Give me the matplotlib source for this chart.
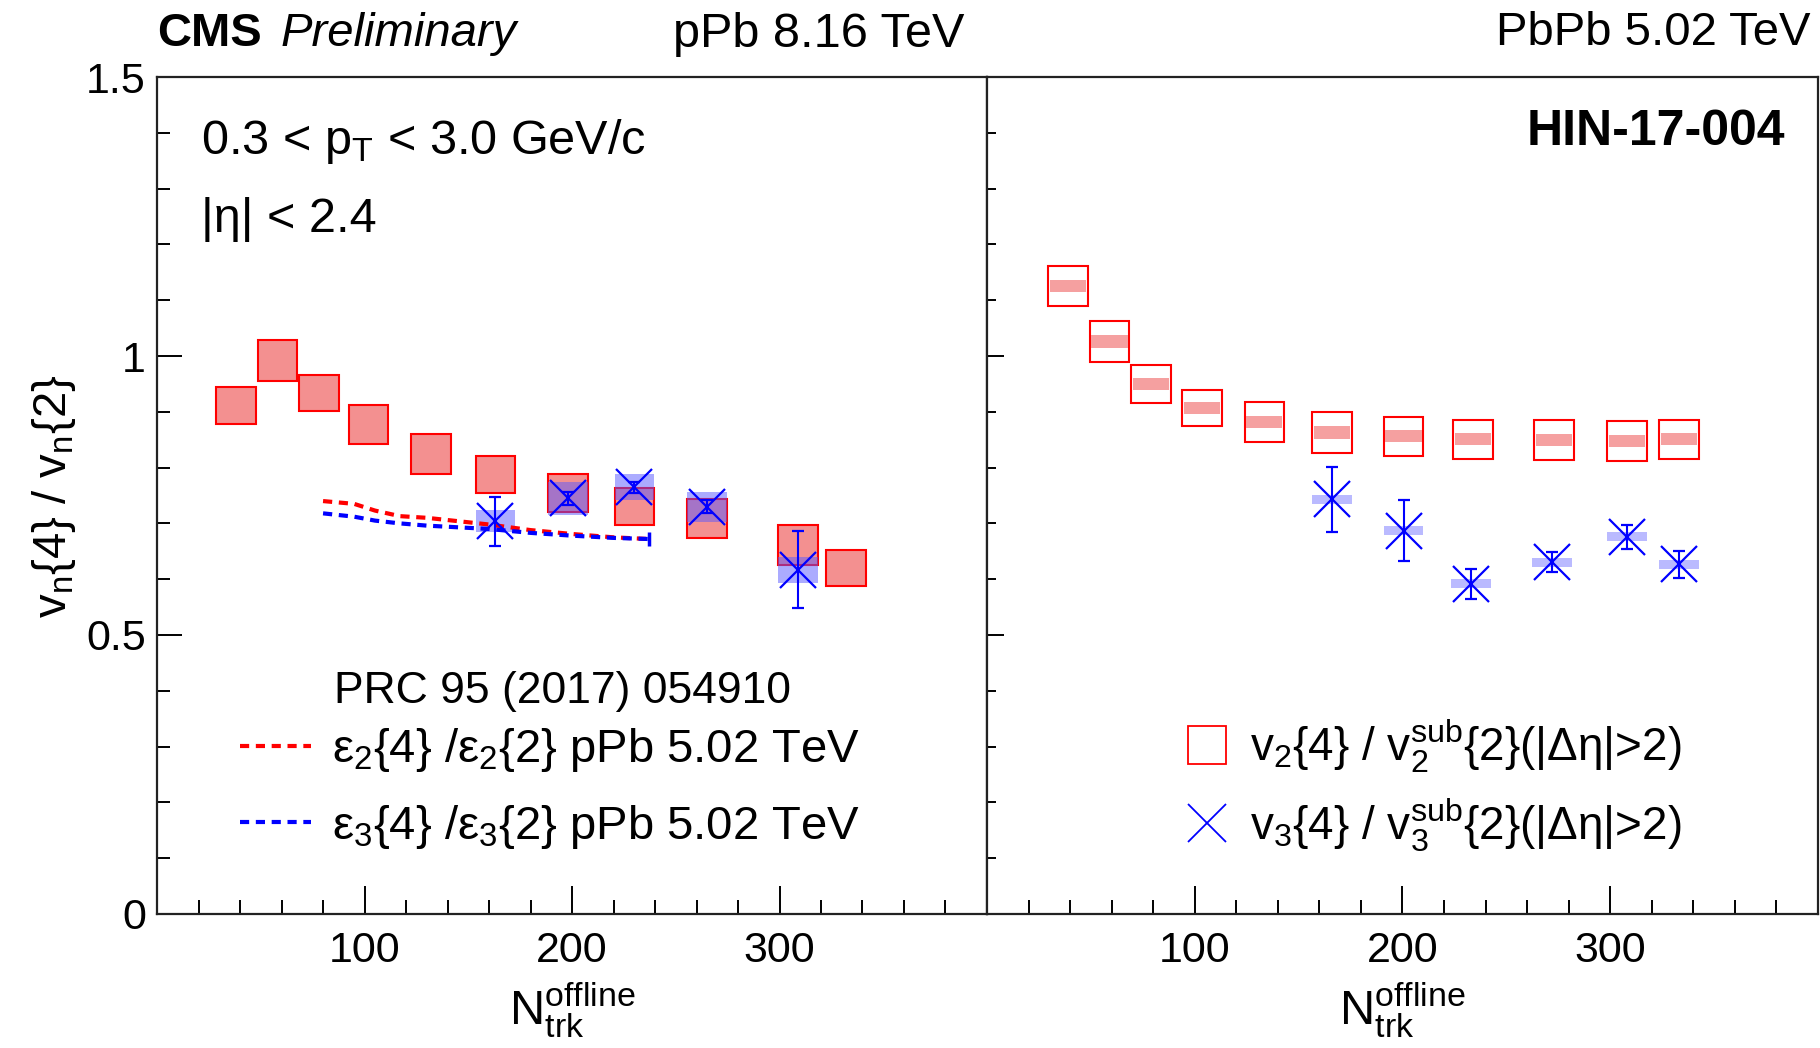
import matplotlib.pyplot as plt
from matplotlib.lines import Line2D
from matplotlib.ticker import FixedLocator, MultipleLocator

plt.rcParams.update({
    "font.family": "Liberation Sans",
    "mathtext.fontset": "custom",
    "mathtext.rm": "Liberation Sans",
    "mathtext.it": "Liberation Sans:italic",
    "mathtext.bf": "Liberation Sans:bold",
    "mathtext.sf": "Liberation Sans",
})

# ---- left panel: pPb 8.16 TeV ----
ppb_n_v2 = [38, 58, 78, 102, 132, 163, 198, 230, 265, 309, 332]
ppb_v2 = [0.912, 0.992, 0.934, 0.877, 0.824, 0.787, 0.755, 0.730, 0.708, 0.662, 0.620]
ppb_v2_sys = [0.033, 0.036, 0.032, 0.035, 0.036, 0.033, 0.034, 0.033, 0.035, 0.036, 0.032]

ppb_n_v3 = [163, 198, 230, 265, 309]
ppb_v3 = [0.704, 0.745, 0.765, 0.730, 0.617]
ppb_v3_stat = [0.044, 0.012, 0.010, 0.012, 0.069]
ppb_v3_sys = [0.020, 0.030, 0.023, 0.027, 0.023]

# eccentricity ratios, PRC 95 (2017) 054910
ecc_n = [80, 95, 105, 117, 130, 160, 180, 200, 220, 237]
ecc2_ratio = [0.740, 0.735, 0.723, 0.713, 0.710, 0.698, 0.688, 0.681, 0.675, 0.672]
ecc3_ratio = [0.718, 0.712, 0.705, 0.700, 0.696, 0.690, 0.683, 0.678, 0.674, 0.672]

# ---- right panel: PbPb 5.02 TeV ----
pbpb_n_v2 = [39, 59, 79, 103.5, 133.5, 166, 200.5, 234, 273, 308, 333]
pbpb_v2 = [1.126, 1.026, 0.950, 0.907, 0.882, 0.863, 0.856, 0.851, 0.849, 0.848, 0.851]
pbpb_v2_sys = [0.036, 0.036, 0.034, 0.032, 0.036, 0.036, 0.035, 0.035, 0.036, 0.036, 0.035]

pbpb_n_v3 = [166, 200.5, 233, 272, 308, 333]
pbpb_v3 = [0.743, 0.687, 0.592, 0.630, 0.676, 0.627]
pbpb_v3_stat = [0.058, 0.055, 0.027, 0.018, 0.021, 0.024]
pbpb_v3_sys = [0.008, 0.008, 0.008, 0.008, 0.008, 0.008]

box_w = 19
red = "#ff0000"
blue = "#0000ff"
fs = 34
tick_fs = 31

fig = plt.figure(figsize=(18.2, 10.48), dpi=100)
ax1 = fig.add_axes([0.0863, 0.1279, 0.456, 0.7986])
ax2 = fig.add_axes([0.5423, 0.1279, 0.4566, 0.7986])

# left panel marks
ax1.bar(ppb_n_v2, [2 * s for s in ppb_v2_sys],
        bottom=[v - s for v, s in zip(ppb_v2, ppb_v2_sys)],
        width=box_w, color="#f39090", edgecolor=red, linewidth=1.5, zorder=2)
ax1.bar(ppb_n_v3, [2 * s for s in ppb_v3_sys],
        bottom=[v - s for v, s in zip(ppb_v3, ppb_v3_sys)],
        width=box_w, color=(0.35, 0.35, 1.0), alpha=0.5, linewidth=0, zorder=3)
ax1.errorbar(ppb_n_v3, ppb_v3, yerr=ppb_v3_stat, fmt="x", color=blue,
             ms=26, mew=1.6, elinewidth=1.5, capsize=4, capthick=1.5, zorder=5)
ecc2_line, = ax1.plot(ecc_n, ecc2_ratio, color=red, lw=3, dashes=(2.2, 1.6),
                      zorder=4, label=r"ε$_2${4} /ε$_2${2} pPb 5.02 TeV")
ecc3_line, = ax1.plot(ecc_n, ecc3_ratio, color=blue, lw=3, dashes=(2.2, 1.6),
                      zorder=4, label=r"ε$_3${4} /ε$_3${2} pPb 5.02 TeV")
ax1.errorbar([ecc_n[-1]], [ecc3_ratio[-1]], yerr=[0.013], fmt="none",
             ecolor=blue, elinewidth=2.5, zorder=4)

# right panel marks
ax2.bar(pbpb_n_v2, [2 * s for s in pbpb_v2_sys],
        bottom=[v - s for v, s in zip(pbpb_v2, pbpb_v2_sys)],
        width=box_w, color="white", edgecolor=red, linewidth=1.5, zorder=2)
ax2.bar(pbpb_n_v2, [0.022] * len(pbpb_v2),
        bottom=[v - 0.011 for v in pbpb_v2],
        width=box_w * 0.92, color="#f5a0a0", linewidth=0, zorder=3)
ax2.bar(pbpb_n_v3, [2 * s for s in pbpb_v3_sys],
        bottom=[v - s for v, s in zip(pbpb_v3, pbpb_v3_sys)],
        width=box_w, color=(0.55, 0.55, 1.0), alpha=0.6, linewidth=0, zorder=3)
ax2.errorbar(pbpb_n_v3, pbpb_v3, yerr=pbpb_v3_stat, fmt="x", color=blue,
             ms=26, mew=1.6, elinewidth=1.5, capsize=4, capthick=1.5, zorder=5)

# axes styling
for ax in (ax1, ax2):
    ax.set_xlim(0, 400)
    ax.set_ylim(0, 1.5)
    for sp in ax.spines.values():
        sp.set_linewidth(1.6)
        sp.set_color("#222222")
    ax.xaxis.set_major_locator(FixedLocator([100, 200, 300]))
    ax.xaxis.set_minor_locator(MultipleLocator(20))
    ax.yaxis.set_major_locator(FixedLocator([0, 0.5, 1.0, 1.5]))
    ax.yaxis.set_minor_locator(MultipleLocator(0.1))
    ax.tick_params(axis="x", which="major", direction="in", length=20, width=1.4,
                   labelsize=tick_fs, pad=12, top=False)
    ax.tick_params(axis="x", which="minor", direction="in", length=10, width=1.4, top=False)
    ax.set_xticklabels(["100", "200", "300"])
    ax.text(0.5, -0.115, r"$\mathrm{N}_{\mathrm{trk}}^{\mathrm{offline}}$",
            transform=ax.transAxes, ha="center", va="center", fontsize=35)

ax1.tick_params(axis="y", which="major", direction="in", length=18, width=1.4,
                labelsize=tick_fs, pad=8, right=False)
ax1.tick_params(axis="y", which="minor", direction="in", length=9, width=1.4, right=False)
ax1.set_yticklabels(["0", "0.5", "1", "1.5"])
ax2.tick_params(axis="y", which="major", direction="in", length=12, width=1.4,
                labelleft=False, right=False)
ax2.tick_params(axis="y", which="minor", direction="in", length=6.5, width=1.4, right=False)

fig.text(0.0297, 0.527, r"v$_{\mathrm{n}}${4} / v$_{\mathrm{n}}${2}", rotation=90,
         ha="center", va="center", fontsize=fs)

# header texts
fig.text(157 / 1820, 0.956, "CMS", fontsize=fs, fontweight="bold", va="baseline")
fig.text(281 / 1820, 0.956, "Preliminary", fontsize=fs, style="italic", va="baseline")
fig.text(673 / 1820, 0.955, "pPb 8.16 TeV", fontsize=35, va="baseline")
fig.text(1811 / 1820, 0.957, "PbPb 5.02 TeV", fontsize=fs, va="baseline", ha="right")

ax1.text(0.053, 0.908, r"0.3 < p$_{\mathrm{T}}$ < 3.0 GeV/c", transform=ax1.transAxes,
         fontsize=35, va="baseline")
ax1.text(0.053, 0.815, "|η| < 2.4", transform=ax1.transAxes, fontsize=35, va="baseline")
ax2.text(0.960, 0.919, "HIN-17-004", transform=ax2.transAxes, fontsize=36,
         fontweight="bold", ha="right", va="baseline")

# legends
ax1.text(0.489, 0.252, "PRC 95 (2017) 054910", transform=ax1.transAxes,
         fontsize=32, ha="center", va="baseline")
ax1.legend(handles=[ecc2_line, ecc3_line], loc="center left",
           bbox_to_anchor=(0.1, 0.150), frameon=False, fontsize=fs,
           handlelength=1.5, handletextpad=0.45, labelspacing=0.6,
           borderpad=0, borderaxespad=0)

v2_handle = Line2D([], [], ls="none", marker="s", ms=27, mfc="none", mec=red, mew=1.3)
v3_handle = Line2D([], [], ls="none", marker="x", ms=27, color=blue, mew=1.3)
ax2.legend(handles=[v2_handle, v3_handle],
           labels=[r"v$_2${4} / v$_2^{\mathrm{sub}}${2}(|Δη|>2)",
                   r"v$_3${4} / v$_3^{\mathrm{sub}}${2}(|Δη|>2)"],
           loc="upper left", bbox_to_anchor=(0.237, 0.235), frameon=False,
           fontsize=33, handlelength=1.0, handletextpad=0.45, labelspacing=0.45,
           borderpad=0, borderaxespad=0)

fig.savefig("out.png", dpi=100)
